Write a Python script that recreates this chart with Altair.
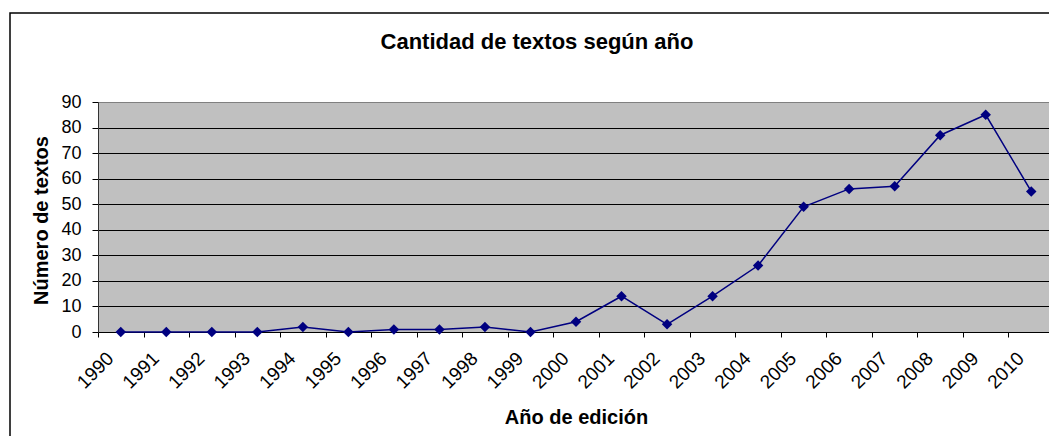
import altair as alt
import pandas as pd

years = list(range(1990, 2011))
counts = [0, 0, 0, 0, 2, 0, 1, 1, 2, 0, 4, 14, 3, 14, 26, 49, 56, 57, 77, 85, 55]
y_ticks = [0, 10, 20, 30, 40, 50, 60, 70, 80, 90]

df = pd.DataFrame({"year": years, "count": counts})
x_ticks = [y - 0.5 for y in years] + [years[-1] + 0.5]

FONT = "Liberation Sans"
NAVY = "#000080"

x_enc = alt.X(
    "year:Q",
    scale=alt.Scale(domain=[years[0] - 0.5, years[-1] + 0.5], nice=False, zero=False),
    axis=alt.Axis(
        values=x_ticks,
        labelExpr="datum.value > 2010 ? '' : toString(floor(datum.value) + 1)",
        labelAngle=-45,
        labelAlign="right",
        labelBaseline="middle",
        labelOffset=12,
        labelPadding=18,
        labelFontSize=19,
        labelColor="#000000",
        labelFont=FONT,
        tickSize=5,
        tickColor="#000000",
        domainColor="#000000",
        grid=False,
        title="Año de edición",
        titleFont=FONT,
        titleFontSize=20,
        titleFontWeight="bold",
        titleColor="#000000",
        titleX=478,
        titleY=91,
        titleBaseline="alphabetic",
        titleAlign="center",
        labelOverlap=False,
        labelFlush=False,
    ),
)

y_enc = alt.Y(
    "count:Q",
    scale=alt.Scale(domain=[0, 90], nice=False),
    axis=alt.Axis(
        values=y_ticks,
        labelFontSize=18,
        labelColor="#000000",
        labelFont=FONT,
        labelPadding=11,
        tickSize=6,
        tickColor="#000000",
        domainColor="#333333",
        grid=True,
        gridColor={"condition": {"test": "datum.value >= 90", "value": "#808080"}, "value": "#000000"},
        gridWidth=1,
        gridOpacity=1,
        title="Número de textos",
        titleFont=FONT,
        titleFontSize=20,
        titleFontWeight="bold",
        titleColor="#000000",
        titleX=-51,
        titleY=118,
        titleAngle=-90,
        titleBaseline="alphabetic",
        titleAlign="center",
        labelFlush=False,
    ),
)

base = alt.Chart(df)
line = base.mark_line(color=NAVY, strokeWidth=1.5).encode(x=x_enc, y=y_enc)
pts = base.mark_point(shape="diamond", filled=True, size=110, color=NAVY, opacity=1).encode(x=x_enc, y=y_enc)

border = alt.Chart(alt.Data(values=[{}])).mark_rect(
    fill="#ffffff", fillOpacity=0, stroke="#000000", strokeWidth=1.5
).encode(x=alt.value(-88), x2=alt.value(1100), y=alt.value(-89), y2=alt.value(500))

chart = alt.layer(border, line, pts).properties(
    width=956,
    height=230,
    autosize=alt.AutoSizeParams(type="none"),
    padding={"left": 90, "top": 94, "right": -5, "bottom": 104},
    background="#ffffff",
    title=alt.TitleParams(
        text="Cantidad de textos según año",
        font=FONT,
        fontSize=22,
        fontWeight="bold",
        color="#000000",
        anchor="middle",
        dx=-39,
        dy=59,
        offset=0,
        baseline="alphabetic",
    ),
).configure_view(fill="#C0C0C0", stroke="#808080", strokeWidth=1)

chart.save("out.html", embed_options={"renderer": "svg", "actions": False})
